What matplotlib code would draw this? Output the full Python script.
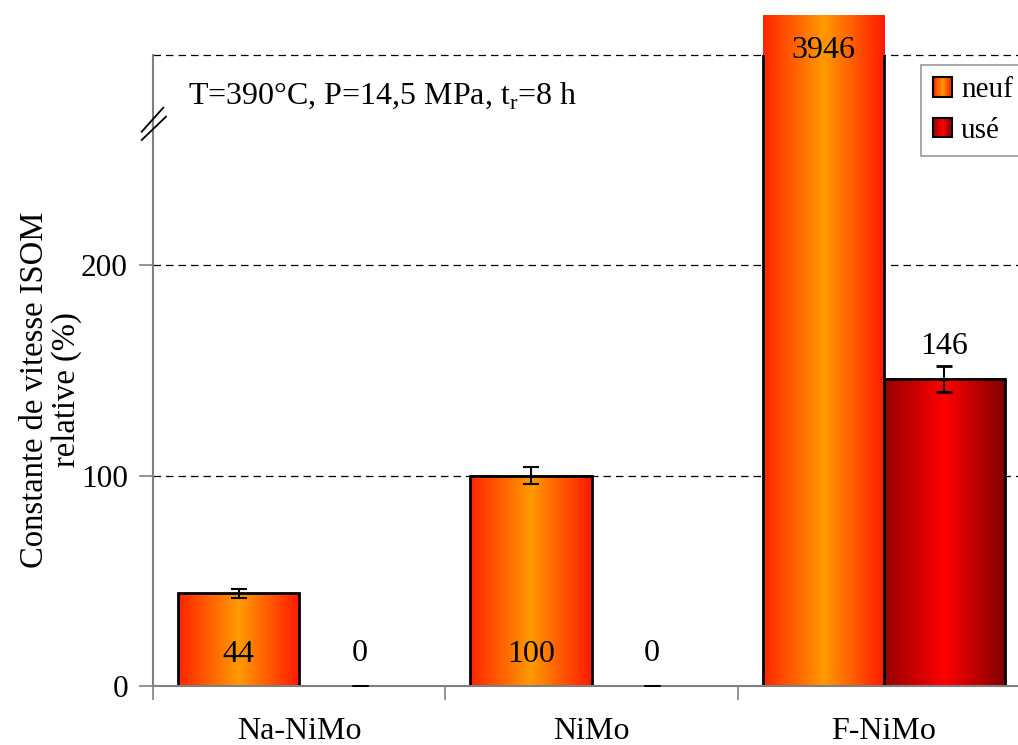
import numpy as np
import matplotlib
matplotlib.use("Agg")
import matplotlib.pyplot as plt
from matplotlib.colors import LinearSegmentedColormap
from matplotlib.patches import Rectangle
from matplotlib.legend_handler import HandlerBase

plt.rcParams['font.family'] = ['Liberation Serif', 'DejaVu Serif']
plt.rcParams['font.size'] = 23

categories = ["Na-NiMo", "NiMo", "F-NiMo"]
neuf = [44, 100, 3946]
neuf_err = [2, 4, 0]
use = [0, 0, 146]
use_err = [0, 0, 6]
series_names = ["neuf", "usé"]

ymax = 300
cap = 319   # broken bar drawn a bit beyond the top of the axes

cmap_neuf = LinearSegmentedColormap.from_list("neuf", ["#ff2400", "#ff9a00", "#ff1800"])
cmap_use = LinearSegmentedColormap.from_list("use", ["#960000", "#ff0000", "#800000"])
grad = np.linspace(0, 1, 256).reshape(1, -1)

fig = plt.figure(figsize=(10.18, 7.45), dpi=100)
ax = fig.add_axes([153/1018, 59/745, 877/1018, 631/745])
ax.set_xlim(-0.5, 2.5)
ax.set_ylim(0, ymax)

x = np.arange(len(categories))
w = 0.415
off = 0.2075

def grad_bar(xc, h, cmap):
    hd = min(h, cap)
    ax.imshow(grad, cmap=cmap, aspect='auto', extent=[xc - w/2, xc + w/2, 0, hd],
              zorder=2, clip_on=(h <= ymax), interpolation='bicubic')
    r = Rectangle((xc - w/2, 0), w, hd, fill=False, edgecolor='black', lw=2, zorder=3)
    ax.add_patch(r)
    return hd

for i in range(len(categories)):
    hd = grad_bar(x[i] - off, neuf[i], cmap_neuf)
    grad_bar(x[i] + off, use[i], cmap_use)
    if neuf[i] <= ymax:
        ax.errorbar(x[i] - off, neuf[i], yerr=neuf_err[i], fmt='none', ecolor='black',
                    capsize=5.5, elinewidth=1.5, capthick=1.5, zorder=7)
        ax.text(x[i] - off, 15, str(neuf[i]), ha='center', va='center', zorder=5)
    else:
        ax.text(x[i] - off, hd - 17, str(neuf[i]), ha='center', va='center', zorder=5, clip_on=False)
    ax.errorbar(x[i] + off, use[i], yerr=use_err[i], fmt='none', ecolor='black',
                capsize=5.5, elinewidth=1.5, capthick=2, zorder=7)
    ax.text(x[i] + off, use[i] + 15.5, str(use[i]), ha='center', va='center', zorder=5)

# grid and axes styling
ax.set_yticks([0, 100, 200])
ax.set_xticks(x)
ax.set_xticklabels(categories)
ax.set_xticks([-0.5, 0.5, 1.5, 2.5], minor=True)
ax.tick_params(axis='x', which='major', length=0, pad=22)
ax.tick_params(axis='x', which='minor', length=10, color='#808080', width=1.2)
ax.tick_params(axis='y', length=10, color='#808080', width=1.2, pad=8, labelsize=22.5)
for yv in [100, 200, 300]:
    ax.axhline(yv, color='black', lw=0.9, ls=(0, (6, 4)), zorder=1, clip_on=False)
for s in ['top', 'right']:
    ax.spines[s].set_visible(False)
for s in ['left', 'bottom']:
    ax.spines[s].set_color('#808080')
    ax.spines[s].set_linewidth(1.5)
    ax.spines[s].set_zorder(6)

ax.set_ylabel("Constante de vitesse ISOM\nrelative (%)", linespacing=1.05, fontsize=23.5)
ax.yaxis.set_label_coords(-0.081, 0.47)

# axis break marks
ax.plot([-0.0129, 0.0117], [0.8784, 0.9165], transform=ax.transAxes,
        color='black', lw=1.3, clip_on=False, zorder=7)
ax.plot([-0.0129, 0.0148], [0.8653, 0.9022], transform=ax.transAxes,
        color='black', lw=1.3, clip_on=False, zorder=7)

ax.text(0.04, 0.935, "T=390°C, P=14,5 MPa, t$_\\mathregular{r}$=8 h", transform=ax.transAxes,
        ha='left', va='center')

class GradHandler(HandlerBase):
    def __init__(self, cmap):
        super().__init__()
        self.cmap = cmap
    def create_artists(self, legend, orig_handle, xdescent, ydescent, width, height, fontsize, trans):
        n = 12
        arts = []
        for k in range(n):
            arts.append(Rectangle((-xdescent + width*k/n, -ydescent), width/n + 0.3, height,
                                  facecolor=self.cmap((k + 0.5)/n), edgecolor='none', transform=trans))
        arts.append(Rectangle((-xdescent, -ydescent), width, height, fill=False,
                              edgecolor='black', lw=1.5, transform=trans))
        return arts

h1 = Rectangle((0, 0), 1, 1)
h2 = Rectangle((0, 0), 1, 1)
leg = ax.legend([h1, h2], series_names, handler_map={h1: GradHandler(cmap_neuf), h2: GradHandler(cmap_use)},
                loc='upper left', bbox_to_anchor=(768/877, 0.984), frameon=True, fancybox=False,
                handlelength=0.65, handleheight=0.65, handletextpad=0.3, fontsize=21,
                borderpad=0.42, labelspacing=0.5, borderaxespad=0)
leg.get_frame().set_edgecolor('#808080')
leg.get_frame().set_linewidth(1.2)

fig.savefig("out.png", dpi=100)
